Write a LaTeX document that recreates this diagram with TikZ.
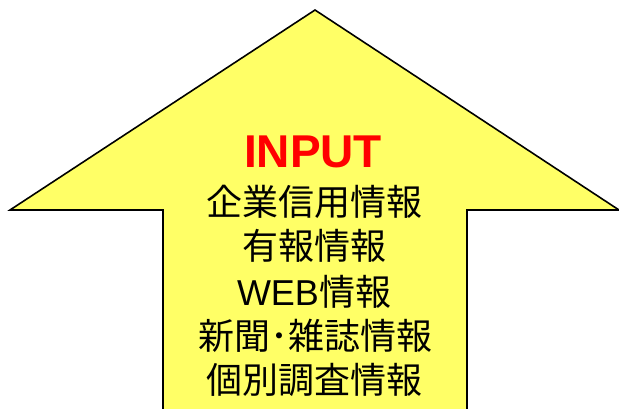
\documentclass[tikz,border=0pt]{standalone}
\usepackage{fontspec}
\setmainfont{Liberation Sans}
\newfontfamily\jpfont{Noto Sans CJK JP}
\definecolor{arrowyellow}{HTML}{FFFF66}
\definecolor{inputred}{HTML}{FF0000}
\begin{document}
\begin{tikzpicture}[x=1pt,y=-1pt,
  arrowshape/.style={fill=arrowyellow,draw=black,line width=1.6pt,line join=miter},
  titletext/.style={font=\fontsize{46}{46}\selectfont\bfseries,text=inputred,inner sep=0pt,anchor=base},
  jptext/.style={font=\fontsize{36}{36}\selectfont\jpfont,inner sep=0pt,anchor=base}]
\useasboundingbox (0,0) rectangle (619,408);
\begin{scope}
\clip (0,0) rectangle (619,408);
\draw[arrowshape] (315,10) -- (619,210) -- (467,210) -- (467,420) -- (163,420) -- (163,210) -- (10,210) -- cycle;
\end{scope}
\node[titletext] (title) at (313,167) {INPUT};
\node[jptext] (l1) at (314,215) {企業信用情報};
\node[jptext] (l2) at (314,259) {有報情報};
\node[jptext] (l3) at (314,305) {{\rmfamily WEB}情報};
\node[jptext] (l4) at (315,349) {新聞･雑誌情報};
\node[jptext] (l5) at (314,393) {個別調査情報};
\end{tikzpicture}
\end{document}
